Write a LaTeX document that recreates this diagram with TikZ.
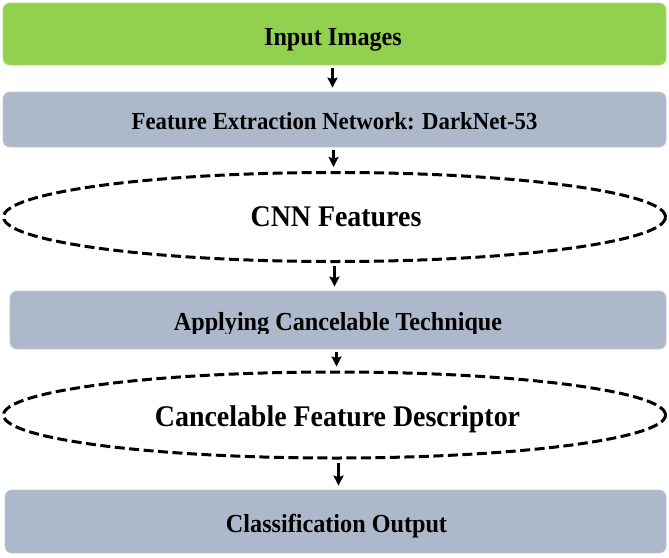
\documentclass[tikz,border=0pt]{standalone}
\usepackage{fontspec}
\setmainfont[FakeStretch=0.93]{Liberation Serif}
\usetikzlibrary{shapes.geometric,arrows.meta}
\definecolor{boxgreen}{HTML}{92D050}
\definecolor{boxgray}{HTML}{ADB9CA}
\begin{document}
\begin{tikzpicture}[x=1pt,y=-1pt,
  box/.style={rectangle,rounded corners=7pt,draw=#1!80!white,line width=0.8pt,fill=#1,inner sep=0pt},
  oval/.style={ellipse,draw=black,line width=3pt,dash pattern=on 10pt off 4.5pt,inner sep=0pt},
  lbl/.style={anchor=base,inner sep=0pt,font=\bfseries\fontsize{#1}{#1}\selectfont},
  flow/.style={-{Stealth[length=10pt,width=10pt,inset=1.5pt]},line width=2.4pt,shorten <=3pt,shorten >=4pt}]
\useasboundingbox (0,0) rectangle (669,557);
\node[box=boxgreen,minimum width=663pt,minimum height=62pt] (in) at (334.5,34) {};
\node[box=boxgray,minimum width=663pt,minimum height=55pt] (fe) at (334.5,119.5) {};
\node[oval,minimum width=662pt,minimum height=89pt] (cnn) at (334.5,217) {};
\node[box=boxgray,minimum width=656pt,minimum height=58pt] (app) at (338,320) {};
\node[oval,minimum width=662pt,minimum height=86pt] (cfd) at (334.5,415) {};
\node[box=boxgray,minimum width=661pt,minimum height=63pt] (cls) at (335.5,521.5) {};
\node[lbl=26] (inT) at (333,45) {Input Images};
\node[lbl=24.5] (feT) at (334.5,129) {Feature Extraction Network: DarkNet-53};
\node[lbl=30] (cnnT) at (336,226.5) {CNN Features};
\begin{scope}
\clip (0,0) rectangle (669,333);
\node[lbl=26] (appT) at (338,330) {Applying Cancelable Technique};
\end{scope}
\node[lbl=30] (cfdT) at (337.5,426.5) {Cancelable Feature Descriptor};
\node[lbl=26] (clsT) at (336.5,532) {Classification Output};
\draw[flow] (in.south) ++(-2,0) coordinate (a1) (a1) -- (a1 |- fe.north);
\draw[flow] (fe.south) ++(-1,0) coordinate (a2) (a2) -- (a2 |- cnn.north);
\draw[flow] (cnn.south) -- (cnn.south |- app.north);
\draw[flow] (cfd.north) ++(2,0) coordinate (a4) (a4 |- app.south) -- (a4);
\draw[flow] (cfd.south) ++(4,0) coordinate (a5) (a5) -- (a5 |- cls.north);
\end{tikzpicture}
\end{document}
